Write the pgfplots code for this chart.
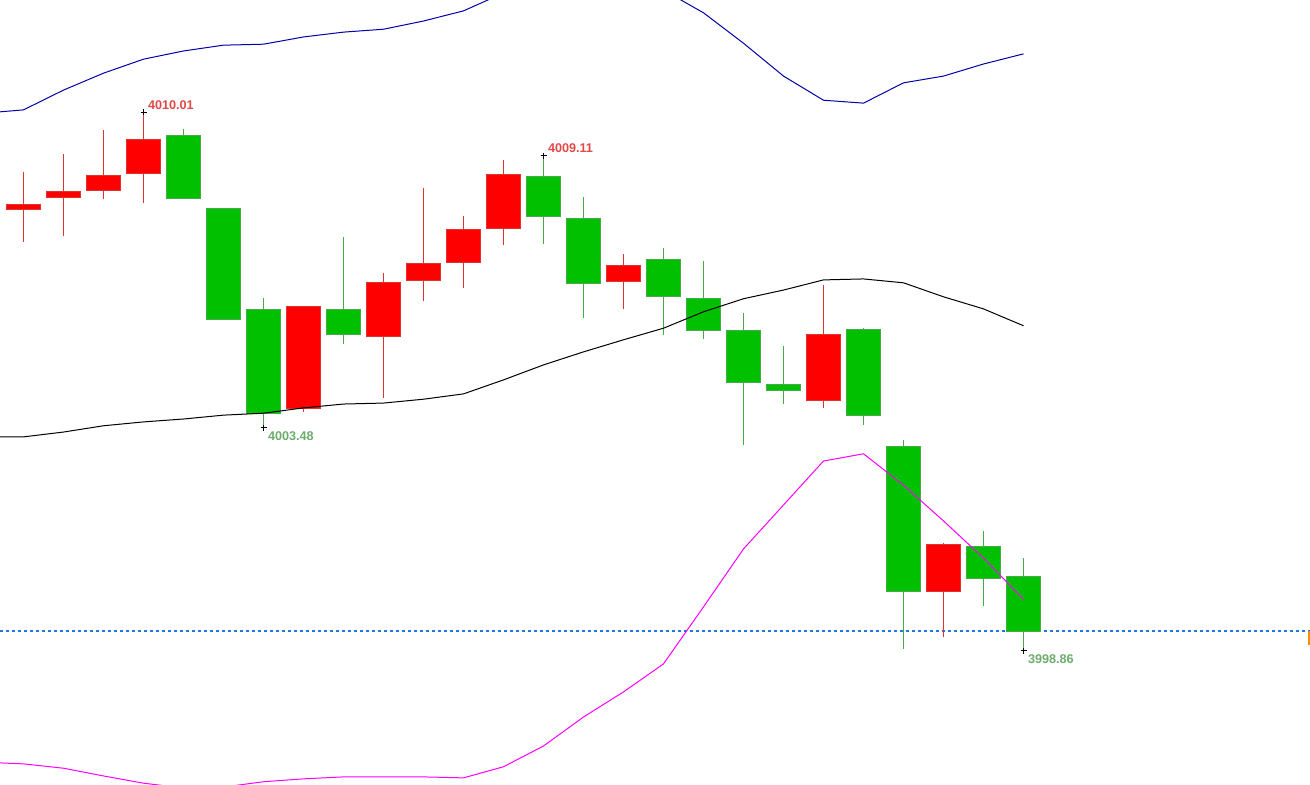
\documentclass[border=0pt]{standalone}
\usepackage{pgfplots}
\pgfplotsset{compat=1.18}
\usepackage{pgfplotstable}
\usepackage{fontspec}
\setmainfont{Liberation Sans}

\definecolor{upfill}{RGB}{255,0,0}
\definecolor{upline}{RGB}{225,50,50}
\definecolor{dnfill}{RGB}{0,192,0}
\definecolor{dnline}{RGB}{70,170,70}
\definecolor{bandblue}{RGB}{0,0,168}
\definecolor{bandmag}{RGB}{255,0,255}
\definecolor{lastblue}{RGB}{30,120,225}
\definecolor{hitext}{RGB}{226,72,72}
\definecolor{lotext}{RGB}{108,172,108}
\definecolor{tickorange}{RGB}{255,140,0}

\pgfplotsset{
  upwick/.style={draw=none, fill=upline, mark=none},
  dnwick/.style={draw=none, fill=dnline, mark=none},
  upbody/.style={draw=upline, fill=upfill, line width=0.01cm, mark=none},
  dnbody/.style={draw=dnline, fill=dnfill, line width=0.01cm, mark=none},
}

% i: bar index, up=1 red (close above open), up=0 green
\pgfplotstableread{
i hi top bot lo up
0 4008.77 4008.11 4007.99 4007.32 1
1 4009.15 4008.36 4008.24 4007.45 1
2 4009.64 4008.71 4008.40 4008.22 1
3 4010.01 4009.44 4008.75 4008.13 1
4 4009.66 4009.54 4008.22 4008.21 0
5 4008.03 4008.01 4005.73 4005.72 0
6 4006.17 4005.92 4003.78 4003.48 0
7 4006.00 4005.98 4003.87 4003.81 1
8 4007.43 4005.92 4005.40 4005.21 0
9 4006.68 4006.48 4005.36 4004.10 1
10 4008.44 4006.87 4006.52 4006.10 1
11 4007.86 4007.59 4006.89 4006.37 1
12 4009.02 4008.73 4007.61 4007.26 1
13 4009.11 4008.69 4007.86 4007.28 0
14 4008.26 4007.82 4006.46 4005.75 0
15 4007.08 4006.83 4006.50 4005.94 1
16 4007.20 4006.97 4006.19 4005.40 0
17 4006.93 4006.15 4005.50 4005.32 0
18 4005.85 4005.50 4004.41 4003.12 0
19 4005.17 4004.38 4004.26 4003.97 0
20 4006.43 4005.42 4004.05 4003.89 1
21 4005.54 4005.52 4003.74 4003.54 0
22 4003.22 4003.10 4000.08 3998.90 0
23 4001.09 4001.07 4000.08 3999.15 1
24 4001.34 4001.03 4000.35 3999.79 0
25 4000.78 4000.39 3999.27 3998.86 0
}\candles

\begin{document}
\begin{tikzpicture}
\begin{axis}[
  width=13.1cm, height=7.84cm,
  scale only axis,
  hide axis,
  clip=true,
  xmin=-0.5875, xmax=32.1625,
  ymin=3996.103, ymax=4012.335,
]
% last price
\addplot[lastblue, line width=0.012cm, dash pattern=on 0.03cm off 0.03cm]
  coordinates {(-0.5875,3999.27) (32.1625,3999.27)};
\addplot[tickorange, line width=0.02cm] coordinates {(32.135,3999.27) (32.135,3998.98)};

% candles: wick as a one-pixel filled strip, body as a rectangle
\pgfplotsinvokeforeach{0,...,25}{
  \pgfplotstablegetelem{#1}{hi}\of\candles\let\cHi\pgfplotsretval
  \pgfplotstablegetelem{#1}{top}\of\candles\let\cTop\pgfplotsretval
  \pgfplotstablegetelem{#1}{bot}\of\candles\let\cBot\pgfplotsretval
  \pgfplotstablegetelem{#1}{lo}\of\candles\let\cLo\pgfplotsretval
  \pgfplotstablegetelem{#1}{up}\of\candles\let\cUp\pgfplotsretval
  \pgfmathsetmacro\xL{#1-0.425}
  \pgfmathsetmacro\xR{#1+0.425}
  \pgfmathsetmacro\wL{#1-0.0125}
  \pgfmathsetmacro\wR{#1+0.0125}
  \ifnum\cUp=1 \def\cstyle{up}\else\def\cstyle{dn}\fi
  \edef\doit{%
    \noexpand\addplot[\cstyle wick] coordinates {(\wL,\cLo) (\wR,\cLo) (\wR,\cHi) (\wL,\cHi)} -- cycle;
    \noexpand\addplot[\cstyle body] coordinates {(\xL,\cBot) (\xR,\cBot) (\xR,\cTop) (\xL,\cTop)} -- cycle;
  }\doit
}

% upper band
\addplot[bandblue, line width=0.01cm] coordinates {
  (-0.5875,4010.02) (0,4010.06) (1,4010.47) (2,4010.82) (3,4011.11) (4,4011.28)
  (5,4011.40) (6,4011.42) (7,4011.57) (8,4011.67) (9,4011.73) (10,4011.90)
  (11,4012.11) (12,4012.48) (13,4012.75) (14,4012.91) (15,4012.85) (16,4012.54)
  (17,4012.07) (18,4011.44) (19,4010.76) (20,4010.26) (21,4010.20) (22,4010.62)
  (23,4010.76) (24,4011.01) (25,4011.22)
};
% middle band
\addplot[black, line width=0.01cm] coordinates {
  (-0.5875,4003.29) (0,4003.29) (1,4003.39) (2,4003.52) (3,4003.60) (4,4003.66)
  (5,4003.74) (6,4003.78) (7,4003.89) (8,4003.97) (9,4003.99) (10,4004.07)
  (11,4004.18) (12,4004.47) (13,4004.78) (14,4005.05) (15,4005.30) (16,4005.54)
  (17,4005.88) (18,4006.15) (19,4006.33) (20,4006.54) (21,4006.56) (22,4006.48)
  (23,4006.19) (24,4005.94) (25,4005.59)
};
% lower band
\addplot[bandmag, line width=0.01cm] coordinates {
  (-0.5875,3996.54) (0,3996.52) (1,3996.43) (2,3996.27) (3,3996.12) (4,3996.02)
  (5,3996.04) (6,3996.15) (7,3996.21) (8,3996.25) (9,3996.25) (10,3996.25)
  (11,3996.23) (12,3996.46) (13,3996.89) (14,3997.49) (15,3998.01) (16,3998.59)
  (17,3999.77) (18,4000.97) (19,4001.88) (20,4002.79) (21,4002.94) (22,4002.29)
  (23,4001.55) (24,4000.78) (25,3999.93)
};

% extreme markers
\addplot[black, only marks, mark=+, mark size=0.03cm, line width=0.01cm,
  nodes near coords, point meta=explicit symbolic,
  every node near coord/.append style={anchor=base west, inner sep=0pt,
    xshift=0.04cm, yshift=0.03cm, text=hitext,
    font=\fontsize{3.6}{4}\selectfont\bfseries}]
  coordinates {(3,4010.01) [4010.01] (13,4009.11) [4009.11]};
\addplot[black, only marks, mark=+, mark size=0.03cm, line width=0.01cm,
  nodes near coords, point meta=explicit symbolic,
  every node near coord/.append style={anchor=north west, inner sep=0pt,
    xshift=0.04cm, yshift=-0.03cm, text=lotext,
    font=\fontsize{3.6}{4}\selectfont\bfseries}]
  coordinates {(6,4003.48) [4003.48] (25,3998.86) [3998.86]};
\end{axis}
\pgfresetboundingbox
\path[use as bounding box] (0,0) rectangle (13.1cm,7.84cm);
\end{tikzpicture}
\end{document}
